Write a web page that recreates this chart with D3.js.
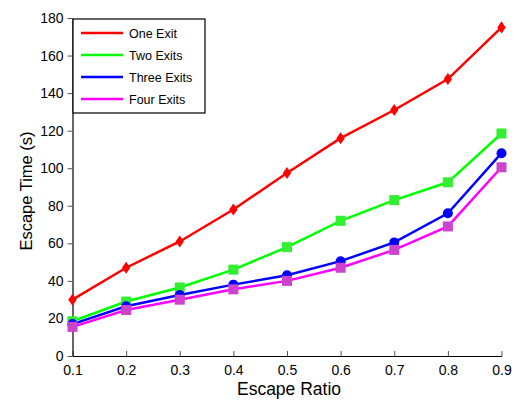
<!DOCTYPE html>
<html><head><meta charset="utf-8">
<script src="https://cdn.jsdelivr.net/npm/d3@7"></script>
<style>body{margin:0;background:#fff}svg{display:block;font-family:"Liberation Sans",Arial,sans-serif}</style>
</head><body><svg id="c" width="518" height="402"></svg>
<script>
const ratios=[0.1,0.2,0.3,0.4,0.5,0.6,0.7,0.8,0.9];
const oneExit=[30,47,61,78,97.5,116,131,147.5,175];
const twoExits=[18.5,29,36.5,46,58,72,83,92.5,118.5];
const threeExits=[17,26.5,32.5,38,43,50.5,60.5,76,108];
const fourExits=[15.5,24.5,30,35.5,40,47,56.5,69,100.5];
const seriesNames=["One Exit","Two Exits","Three Exits","Four Exits"];
const xTicks=[0.1,0.2,0.3,0.4,0.5,0.6,0.7,0.8,0.9];
const yTicks=[0,20,40,60,80,100,120,140,160,180];

const series=[
 {name:seriesNames[0],vals:oneExit,color:"#ff0000",fill:"#ff0000",sym:"diamond"},
 {name:seriesNames[1],vals:twoExits,color:"#00ff00",fill:"#33ee33",sym:"square"},
 {name:seriesNames[2],vals:threeExits,color:"#0000ff",fill:"#0000ff",sym:"circle"},
 {name:seriesNames[3],vals:fourExits,color:"#ff00ff",fill:"#cc44cc",sym:"square"}
];
const svg=d3.select("#c");
const L=72.5,R=501.5,T=18,B=356;
const x=d3.scaleLinear().domain([0.1,0.9]).range([L,R]);
const y=d3.scaleLinear().domain([0,180]).range([B,T]);

// axes
const xa=svg.append("g").attr("transform",`translate(0,${B})`)
 .call(d3.axisBottom(x).tickValues(xTicks).tickFormat(d3.format(".1f")).tickSizeInner(-5).tickSizeOuter(0).tickPadding(9));
const ya=svg.append("g").attr("transform",`translate(${L},0)`)
 .call(d3.axisLeft(y).tickValues(yTicks).tickSizeInner(5).tickSizeOuter(0).tickPadding(4));
[xa,ya].forEach(a=>{a.select(".domain").attr("stroke","#000").attr("stroke-width",1.2);
 a.selectAll(".tick line").attr("stroke","#555");
 a.selectAll("text").attr("font-size",14).attr("fill","#000").attr("font-family","Liberation Sans, Arial, sans-serif");});

const line=d3.line().x((d,i)=>x(ratios[i])).y(d=>y(d));
series.forEach(s=>{
 svg.append("path").datum(s.vals).attr("d",line).attr("fill","none").attr("stroke",s.color).attr("stroke-width",2.5);
});
series.forEach(s=>{
 const g=svg.append("g");
 s.vals.forEach((v,i)=>{
  const cx=x(ratios[i]),cy=y(v);
  if(s.sym==="diamond"){
   g.append("path").attr("d",d3.symbol(d3.symbolDiamond2,70)()).attr("transform",`translate(${cx},${cy}) scale(0.8,1.15)`).attr("fill",s.fill);
  } else if(s.sym==="square"){
   g.append("rect").attr("x",cx-5).attr("y",cy-5).attr("width",10).attr("height",10).attr("fill",s.fill);
  } else {
   g.append("circle").attr("cx",cx).attr("cy",cy).attr("r",5).attr("fill",s.fill);
  }
 });
});

// legend
const lg=svg.append("g");
lg.append("rect").attr("x",73).attr("y",19).attr("width",132).attr("height",94).attr("fill","#fff").attr("stroke","#000").attr("stroke-width",1.2);
series.forEach((s,i)=>{
 const ly=33+i*22;
 lg.append("line").attr("x1",81).attr("x2",123).attr("y1",ly).attr("y2",ly).attr("stroke",s.color).attr("stroke-width",2.5);
 lg.append("text").attr("x",129).attr("y",ly+4.5).attr("font-size",12.5).text(s.name);
});

svg.append("text").attr("x",289).attr("y",395).attr("text-anchor","middle").attr("font-size",17.5).text("Escape Ratio");
svg.append("text").attr("transform",`translate(32,191) rotate(-90)`).attr("text-anchor","middle").attr("font-size",16.5).text("Escape Time (s)");
</script></body></html>
